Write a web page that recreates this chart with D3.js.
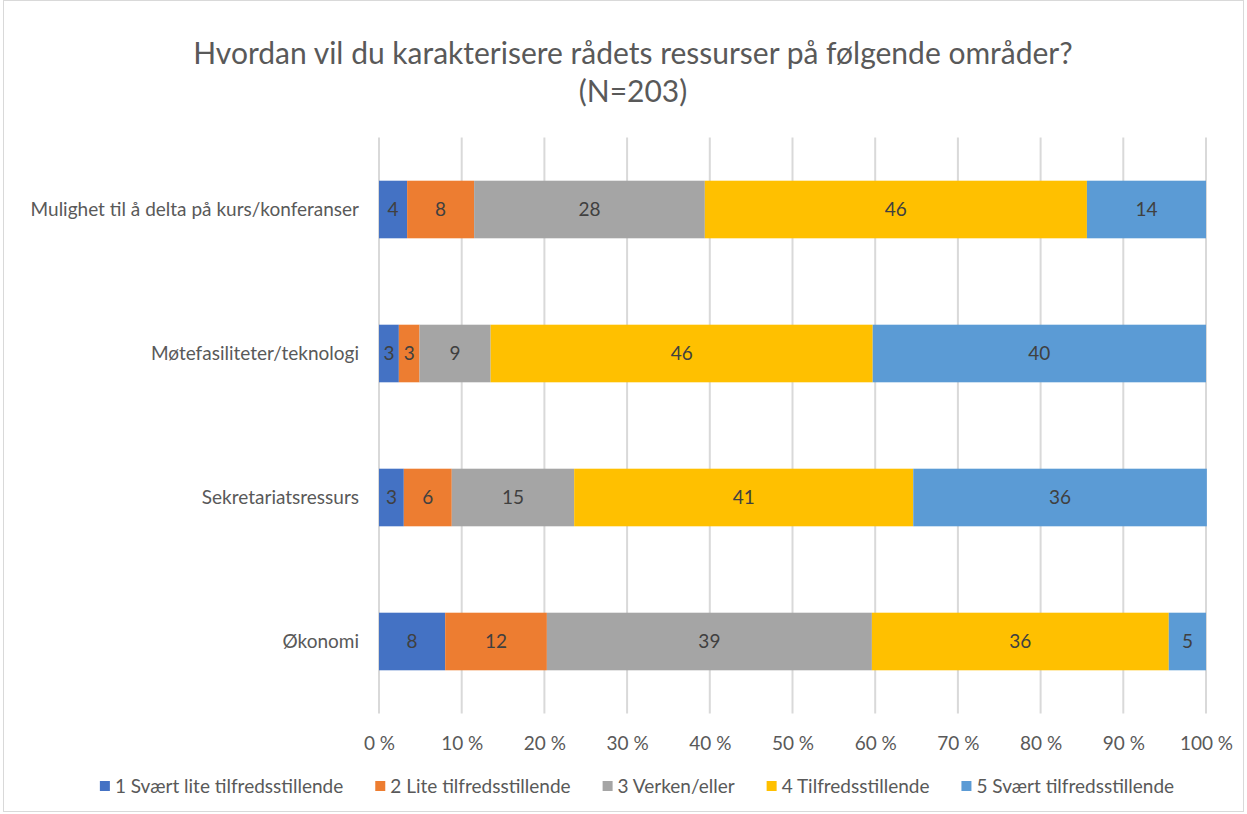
<!DOCTYPE html>
<html>
<head>
<meta charset="utf-8">
<script src="https://cdn.jsdelivr.net/npm/d3@7"></script>
<style>
  body { margin: 0; background: #fff; }
  text { font-family: Lato, "Open Sans", sans-serif; }
</style>
</head>
<body>
<div id="chart"></div>
<script>
const categories = ["Mulighet til å delta på kurs/konferanser", "Møtefasiliteter/teknologi", "Sekretariatsressurs", "Økonomi"];
const seriesNames = ["1 Svært lite tilfredsstillende", "2 Lite tilfredsstillende", "3 Verken/eller", "4 Tilfredsstillende", "5 Svært tilfredsstillende"];
const seriesColors = ["#4472C4", "#ED7D31", "#A5A5A5", "#FFC000", "#5B9BD5"];

// share of each answer per category
const s1 = [3.4, 2.4, 3.0, 8.0];
const s2 = [8.1, 2.5, 5.8, 12.3];
const s3 = [27.9, 8.6, 14.8, 39.3];
const s4 = [46.2, 46.2, 41.0, 35.9];
const s5 = [14.4, 40.3, 35.5, 4.5];

// data labels as printed in the bars
const l1 = ["4", "3", "3", "8"];
const l2 = ["8", "3", "6", "12"];
const l3 = ["28", "9", "15", "39"];
const l4 = ["46", "46", "41", "36"];
const l5 = ["14", "40", "36", "5"];

const xTicks = [0, 10, 20, 30, 40, 50, 60, 70, 80, 90, 100];

const width = 1247, height = 814;
const margin = {top: 137.5, right: 41, bottom: 100.5, left: 379};
const FONT = "19px";

const svg = d3.select("#chart").append("svg")
    .attr("width", width)
    .attr("height", height);

// chart area border
svg.append("rect")
    .attr("x", 3.5).attr("y", 0.5)
    .attr("width", width - 7).attr("height", height - 3)
    .attr("fill", "#fff")
    .attr("stroke", "#d9d9d9");

// title
svg.append("text")
    .attr("x", 633).attr("y", 64)
    .attr("text-anchor", "middle")
    .style("font-size", "30px")
    .style("fill", "#595959")
    .text("Hvordan vil du karakterisere rådets ressurser på følgende områder?");
svg.append("text")
    .attr("x", 633).attr("y", 102)
    .attr("text-anchor", "middle")
    .style("font-size", "30px")
    .style("fill", "#595959")
    .text("(N=203)");

const x = d3.scaleLinear()
    .domain([0, 100])
    .range([margin.left, width - margin.right]);

const y = d3.scaleBand()
    .domain(categories)
    .range([margin.top, height - margin.bottom])
    .paddingInner(0.6)
    .paddingOuter(0.3);

// gridlines
svg.append("g")
    .selectAll("line")
    .data(xTicks)
    .join("line")
        .attr("x1", d => x(d)).attr("x2", d => x(d))
        .attr("y1", margin.top).attr("y2", height - margin.bottom)
        .attr("stroke", "#d9d9d9")
        .attr("stroke-width", 2);

// x axis labels
const xAxis = svg.append("g")
    .attr("transform", "translate(0," + (height - margin.bottom) + ")")
    .call(d3.axisBottom(x).tickValues(xTicks).tickSize(0).tickPadding(23).tickFormat(d => d + " %"));
xAxis.select(".domain").remove();
xAxis.selectAll("text")
    .style("font-size", FONT)
    .style("fill", "#595959")
    .style("font-family", "Lato, 'Open Sans', sans-serif");

// category labels
const yAxis = svg.append("g")
    .attr("transform", "translate(" + margin.left + ",0)")
    .call(d3.axisLeft(y).tickSize(0).tickPadding(20));
yAxis.select(".domain").remove();
yAxis.selectAll("text")
    .style("font-size", FONT)
    .style("fill", "#595959")
    .style("font-family", "Lato, 'Open Sans', sans-serif");

// stacked bars
const values = [s1, s2, s3, s4, s5];
const labels = [l1, l2, l3, l4, l5];
const rows = categories.map((c, i) => {
    const r = {category: c};
    seriesNames.forEach((s, j) => { r[s] = values[j][i]; });
    return r;
});
const stacked = d3.stack().keys(seriesNames)(rows);

stacked.forEach((layer, j) => {
    const g = svg.append("g");
    g.selectAll("rect")
        .data(layer)
        .join("rect")
            .attr("x", d => x(d[0]))
            .attr("y", d => y(d.data.category))
            .attr("width", d => x(d[1]) - x(d[0]))
            .attr("height", y.bandwidth())
            .attr("fill", seriesColors[j]);
    g.selectAll("text")
        .data(layer)
        .join("text")
            .attr("x", d => (x(d[0]) + x(d[1])) / 2)
            .attr("y", d => y(d.data.category) + y.bandwidth() / 2)
            .attr("dy", "0.35em")
            .attr("text-anchor", "middle")
            .style("font-size", FONT)
            .style("fill", "#404040")
            .text((d, i) => labels[j][i]);
});

// legend
const GAP = 32;
const legend = svg.append("g");
let lx = 0;
seriesNames.forEach((name, j) => {
    const item = legend.append("g").attr("transform", "translate(" + lx + ",0)");
    item.append("rect")
        .attr("x", 0).attr("y", -5)
        .attr("width", 10).attr("height", 10)
        .attr("fill", seriesColors[j]);
    const t = item.append("text")
        .attr("x", 15).attr("dy", "0.35em")
        .style("font-size", FONT)
        .style("fill", "#595959")
        .text(name);
    lx += 15 + t.node().getComputedTextLength() + GAP;
});
const legendWidth = lx - GAP;
legend.attr("transform", "translate(" + (637 - legendWidth / 2) + ",786)");
</script>
</body>
</html>
